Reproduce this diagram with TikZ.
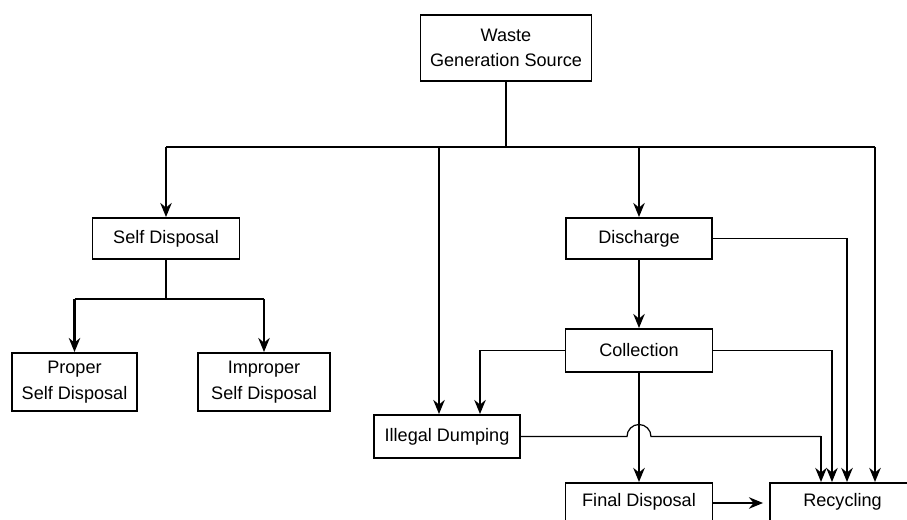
\documentclass[tikz,border=0pt]{standalone}
\usepackage{fontspec}
\setmainfont{Liberation Sans}
\usetikzlibrary{arrows.meta,calc}

\begin{document}
\begin{tikzpicture}[x=0.02cm,y=-0.02cm,
	box/.style={draw,line width=1.1pt,align=center,inner sep=2pt,font=\fontsize{10.3}{14.5}\selectfont},
	cutbox/.style={box,anchor=north,inner ysep=0.17cm,text height=0.3cm,text depth=1.5cm},
	link/.style={line width=1.3pt},
	thinlink/.style={line width=0.7pt},
	arr/.style={link,-{Stealth[length=8pt,width=6.5pt]}},
	thinarr/.style={thinlink,-{Stealth[length=8pt,width=6.5pt]}}]

	\useasboundingbox (0,0) rectangle (907,520);
	\clip (0,0) rectangle (907,520);

	\node[box,minimum width=3.42cm,minimum height=1.32cm] (waste) at (506,48) {Waste\\Generation Source};
	\node[box,minimum width=2.94cm,minimum height=0.82cm] (self) at (166,238.5) {Self Disposal};
	\node[box,minimum width=2.5cm,minimum height=1.16cm] (proper) at (74.5,382) {Proper\\Self Disposal};
	\node[box,minimum width=2.64cm,minimum height=1.16cm] (improper) at (264,382) {Improper\\Self Disposal};
	\node[box,minimum width=2.92cm,minimum height=0.82cm] (discharge) at (639,238.5) {Discharge};
	\node[box,minimum width=2.94cm,minimum height=0.86cm] (collection) at (639,350.5) {Collection};
	\node[box,minimum width=2.92cm,minimum height=0.86cm] (illegal) at (447,436.5) {Illegal Dumping};
	\node[cutbox,minimum width=2.94cm] (final) at (639,482) {Final Disposal};
	\node[cutbox,minimum width=2.9cm] (recyc) at (842.5,482) {Recycling};

	\coordinate (bl) at (166,147);
	\coordinate (bm) at (439,147);
	\coordinate (br) at (875,147);
	\coordinate (sj) at (166,299);
	\coordinate (ic) at (480,0);
	\coordinate (r0) at (821,0);
	\coordinate (r1) at (832,0);
	\coordinate (r2) at (847,0);

	\draw[link] (waste.south) -- (waste.south |- bl);
	\draw[thinlink] (bl) -- (br);
	\draw[arr] (bl) -- (self.north);
	\draw[arr] (bm) -- (bm |- illegal.north);
	\draw[arr] (discharge.north |- bl) -- (discharge.north);
	\draw[arr] (br) -- (br |- recyc.north);

	\draw[link] (self.south) -- (sj);
	\draw[thinlink] (proper.north |- sj) -- (improper.north |- sj);
	\draw[arr] (proper.north |- sj) -- (proper.north);
	\draw[arr] (improper.north |- sj) -- (improper.north);

	\draw[arr] (discharge) -- (collection);
	\draw[thinlink] (discharge.east) -- (r2 |- discharge.east);
	\draw[arr] (r2 |- discharge.east) -- (r2 |- recyc.north);

	\draw[thinlink] (collection.west) -- (ic |- collection.west);
	\draw[arr] (ic |- collection.west) -- (ic |- illegal.north);
	\draw[thinarr] (collection.east) -| (r1 |- recyc.north);
	\draw[arr] (collection) -- (final);

	\draw[thinlink] (illegal.east) -- ($(collection.south |- illegal.east)+(-0.24cm,0cm)$)
		arc[start angle=180,end angle=0,radius=0.24cm] -- (r0 |- illegal.east);
	\draw[arr] (r0 |- illegal.east) -- (r0 |- recyc.north);

	\draw[arr] ($(final.north east)+(0cm,-0.42cm)$) -- ($(recyc.north west)+(-0.12cm,-0.42cm)$);

\end{tikzpicture}
\end{document}
